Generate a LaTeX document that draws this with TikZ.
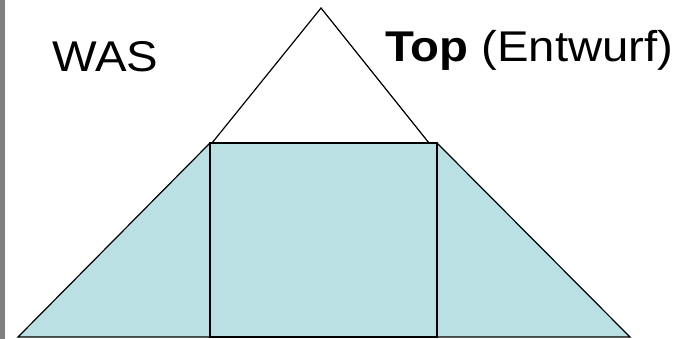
\documentclass[tikz,border=0pt]{standalone}
\usepackage{fontspec}
\setmainfont[FakeStretch=1.1]{Liberation Sans}
\usepackage{xcolor}
\usetikzlibrary{positioning,calc}
\definecolor{pyrfill}{RGB}{187,224,227}
\definecolor{barcol}{RGB}{128,128,128}

\begin{document}
\begin{tikzpicture}[
  x=1pt, y=-1pt,
  outline/.style={draw=black, line width=1.2pt, line join=miter},
  block/.style={outline, fill=pyrfill},
  label/.style={inner sep=0pt, anchor=base west, font=\fontsize{43}{51}\selectfont}
]
\useasboundingbox (0,0) rectangle (681,339);
\fill[white] (0,0) rectangle (681,339);
\fill[barcol] (0,0) rectangle (5,339);
% pyramid
\coordinate (apex) at (321,8);
\coordinate (tl) at (210,143);
\coordinate (tr) at (437,143);
\coordinate (bl) at (18,337);
\coordinate (br) at (630,337);
\coordinate (bml) at (210,337);
\coordinate (bmr) at (437,337);
\draw[outline] (212,143) -- (apex) -- (429,143);
\draw[block] (bl) -- (tl) -- (tr) -- (br) -- cycle;
\draw[block] (tl) rectangle (bmr);
% labels
\node[label] (was) at (52,72) {WAS};
\node[label] (top) at (385,62) {\textbf{Top} (Entwurf)};
\end{tikzpicture}
\end{document}
